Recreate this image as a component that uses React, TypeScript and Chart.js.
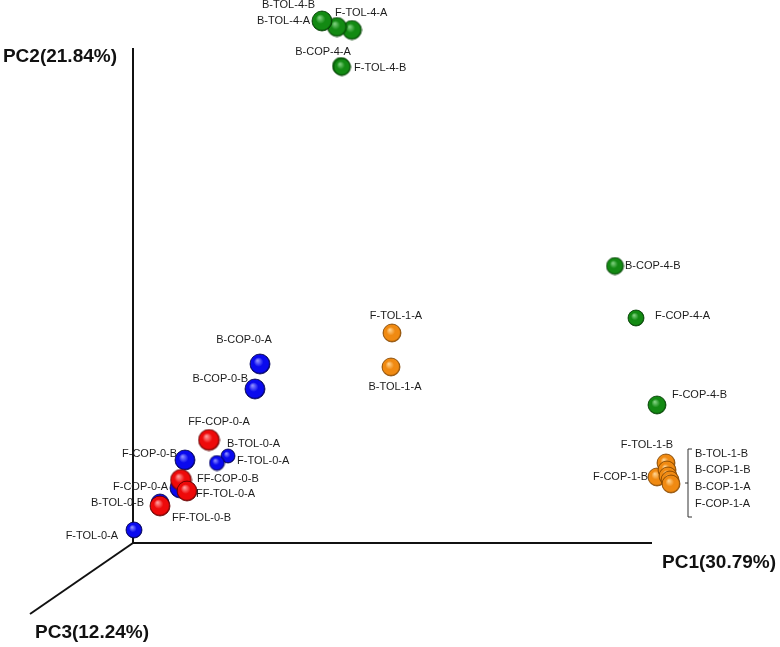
import React, { useEffect, useRef } from "react";
import { Chart, registerables } from "chart.js";

Chart.register(...registerables);

// ---- Data: projected PCoA coordinates (PC1 axis -> x, PC2 axis -> y, PC3 recedes to lower-left) ----
const greenNames = ["F-TOL-4-A", "B-TOL-4-A", "B-TOL-4-B", "B-COP-4-A", "F-TOL-4-B", "B-COP-4-B", "F-COP-4-A", "F-COP-4-B"];
const greenX = [2.19, 2.04, 1.89, 2.08, 2.09, 4.82, 5.03, 5.24];
const greenY = [5.13, 5.16, 5.22, 4.77, 4.76, 2.77, 2.25, 1.38];

const orangeNames = ["F-TOL-1-A", "B-TOL-1-A", "F-TOL-1-B", "F-COP-1-B", "B-TOL-1-B", "B-COP-1-B", "B-COP-1-A", "F-COP-1-A"];
const orangeX = [2.59, 2.58, 5.33, 5.24, 5.34, 5.35, 5.37, 5.38];
const orangeY = [2.10, 1.76, 0.80, 0.66, 0.73, 0.67, 0.63, 0.59];

const blueNames = ["B-COP-0-A", "B-COP-0-B", "F-COP-0-B", "B-TOL-0-A", "F-TOL-0-A", "F-COP-0-A", "B-TOL-0-B", "F-TOL-0-A"];
const blueX = [1.27, 1.22, 0.52, 0.95, 0.84, 0.47, 0.27, 0.01];
const blueY = [1.79, 1.54, 0.83, 0.87, 0.80, 0.55, 0.40, 0.13];

const redNames = ["FF-COP-0-A", "FF-COP-0-B", "FF-TOL-0-A", "FF-TOL-0-B"];
const redX = [0.76, 0.48, 0.54, 0.27];
const redY = [1.03, 0.63, 0.52, 0.37];

const axisTitles = ["PC1(30.79%)", "PC2(21.84%)", "PC3(12.24%)"];
// axis end points in projected units
const pc1End = [5.19, 0];
const pc2End = [0, 4.95];
const pc3End = [-1.03, -0.71];

// ---- Styling (sizes, label offsets, colours) ----
const greenRadius = [9.5, 9.5, 10, 8.5, 8.5, 8.5, 8, 9];
const orangeRadius = [9, 9, 9, 9, 9, 9, 9, 9];
const blueRadius = [10, 10, 10, 7, 7.5, 10, 9, 8];
const redRadius = [10.5, 10.5, 10, 10];

type Off = [number, number, "left" | "right" | "center"];
const greenLabelOff: Off[] = [[-17, -17, "left"], [-27, -6, "right"], [-7, -16, "right"], [-18, -14, "center"], [12, 1, "left"], [10, 0, "left"], [19, -2, "left"], [15, -10, "left"]];
const orangeLabelOff: Off[] = [[4, -17, "center"], [4, 20, "center"], [-19, -18, "center"], [-9, 0, "right"], [28, -16, "left"], [27, -6, "left"], [25, 7, "left"], [24, 20, "left"]];
const blueLabelOff: Off[] = [[-16, -24, "center"], [-7, -10, "right"], [-8, -6, "right"], [-1, -12, "left"], [20, -2, "left"], [-12, -1, "right"], [-16, 0, "right"], [-16, 6, "right"]];
const redLabelOff: Off[] = [[10, -18, "center"], [16, -1, "left"], [9, 3, "left"], [12, 12, "left"]];

const sphereColors = {
  green: { light: "#7fd07f", base: "#138a13", dark: "#034203" },
  orange: { light: "#ffd08a", base: "#f08a12", dark: "#8a4a00" },
  blue: { light: "#8c8cff", base: "#0a0aee", dark: "#00005a" },
  red: { light: "#ff9a9a", base: "#ee0a0a", dark: "#6a0000" },
};

function makeSphere(r: number, c: { light: string; base: string; dark: string }) {
  const size = Math.ceil(2 * r + 2);
  const cv = document.createElement("canvas");
  cv.width = size;
  cv.height = size;
  const g = cv.getContext("2d")!;
  const cx = size / 2, cy = size / 2;
  const grad = g.createRadialGradient(cx - r * 0.25, cy - r * 0.35, r * 0.05, cx, cy, r);
  grad.addColorStop(0, c.light);
  grad.addColorStop(0.45, c.base);
  grad.addColorStop(0.85, c.base);
  grad.addColorStop(1, c.dark);
  g.beginPath();
  g.arc(cx, cy, r, 0, Math.PI * 2);
  g.fillStyle = grad;
  g.fill();
  g.lineWidth = 0.8;
  g.strokeStyle = c.dark;
  g.stroke();
  return cv;
}

function toPoints(xs: number[], ys: number[]) {
  return xs.map((x, i) => ({ x, y: ys[i] }));
}

export default function App() {
  const ref = useRef<HTMLCanvasElement>(null);
  useEffect(() => {
    if (!ref.current) return;
    const groups = [
      { names: redNames, xs: redX, ys: redY, radius: redRadius, color: sphereColors.red, off: redLabelOff },
      { names: blueNames, xs: blueX, ys: blueY, radius: blueRadius, color: sphereColors.blue, off: blueLabelOff },
      { names: orangeNames, xs: orangeX, ys: orangeY, radius: orangeRadius, color: sphereColors.orange, off: orangeLabelOff },
      { names: greenNames, xs: greenX, ys: greenY, radius: greenRadius, color: sphereColors.green, off: greenLabelOff },
    ];

    const axesPlugin = {
      id: "axes3d",
      beforeDatasetsDraw(chart: any) {
        const ctx = chart.ctx;
        const sx = chart.scales.x, sy = chart.scales.y;
        const ox = sx.getPixelForValue(0), oy = sy.getPixelForValue(0);
        const ends = [pc1End, pc2End, pc3End].map((e) => [sx.getPixelForValue(e[0]), sy.getPixelForValue(e[1])]);
        ctx.save();
        ctx.strokeStyle = "#111";
        ctx.lineWidth = 2;
        ctx.lineCap = "butt";
        for (const e of ends) {
          ctx.beginPath();
          ctx.moveTo(ox, oy);
          ctx.lineTo(e[0], e[1]);
          ctx.stroke();
        }
        ctx.fillStyle = "#111";
        ctx.font = "bold 19px 'Liberation Sans', Arial, sans-serif";
        ctx.textBaseline = "middle";
        ctx.textAlign = "left";
        ctx.fillText(axisTitles[0], ends[0][0] + 10, ends[0][1] + 20);
        ctx.textAlign = "right";
        ctx.fillText(axisTitles[1], ends[1][0] - 16, ends[1][1] + 9);
        ctx.textAlign = "left";
        ctx.fillText(axisTitles[2], ends[2][0] + 5, ends[2][1] + 19);
        ctx.restore();
      },
      afterDatasetsDraw(chart: any) {
        const ctx = chart.ctx;
        ctx.save();
        ctx.fillStyle = "#1c1c1c";
        ctx.font = "11px 'Liberation Sans', Arial, sans-serif";
        ctx.textBaseline = "middle";
        groups.forEach((g, di) => {
          const meta = chart.getDatasetMeta(di);
          meta.data.forEach((el: any, i: number) => {
            const [dx, dy, al] = g.off[i];
            ctx.textAlign = al;
            ctx.fillText(g.names[i], el.x + dx, el.y + dy);
          });
        });
        // bracket grouping the 1-B/1-A cluster labels (anchored to B-COP-1-B)
        const anchor = chart.getDatasetMeta(2).data[5];
        if (anchor) {
          const bx = anchor.x + 20, top = anchor.y - 27, bot = anchor.y + 41, mid = anchor.y + 7;
          ctx.strokeStyle = "#333";
          ctx.lineWidth = 1;
          ctx.beginPath();
          ctx.moveTo(bx + 4, top);
          ctx.lineTo(bx, top);
          ctx.lineTo(bx, bot);
          ctx.lineTo(bx + 4, bot);
          ctx.moveTo(bx, mid);
          ctx.lineTo(bx - 3, mid);
          ctx.stroke();
        }
        ctx.restore();
      },
    };

    const chart = new Chart(ref.current, {
      type: "scatter",
      data: {
        datasets: groups.map((g) => ({
          label: g.names[0],
          data: toPoints(g.xs, g.ys),
          pointStyle: g.radius.map((r) => makeSphere(r, g.color)) as any,
          pointRadius: g.radius,
          clip: false as any,
        })),
      },
      options: {
        animation: false,
        responsive: false,
        layout: { padding: 0, autoPadding: false } as any,
        plugins: { legend: { display: false }, tooltip: { enabled: false } },
        events: [],
        scales: {
          x: { type: "linear", min: -1.33, max: 6.47, display: false },
          y: { type: "linear", min: -1.04, max: 5.43, display: false },
        },
      },
      plugins: [axesPlugin],
    });
    return () => chart.destroy();
  }, []);

  return (
    <div style={{ position: "fixed", left: 0, top: 0, width: 780, height: 647, background: "#fff" }}>
      <canvas ref={ref} width={780} height={647} style={{ display: "block" }} />
    </div>
  );
}
